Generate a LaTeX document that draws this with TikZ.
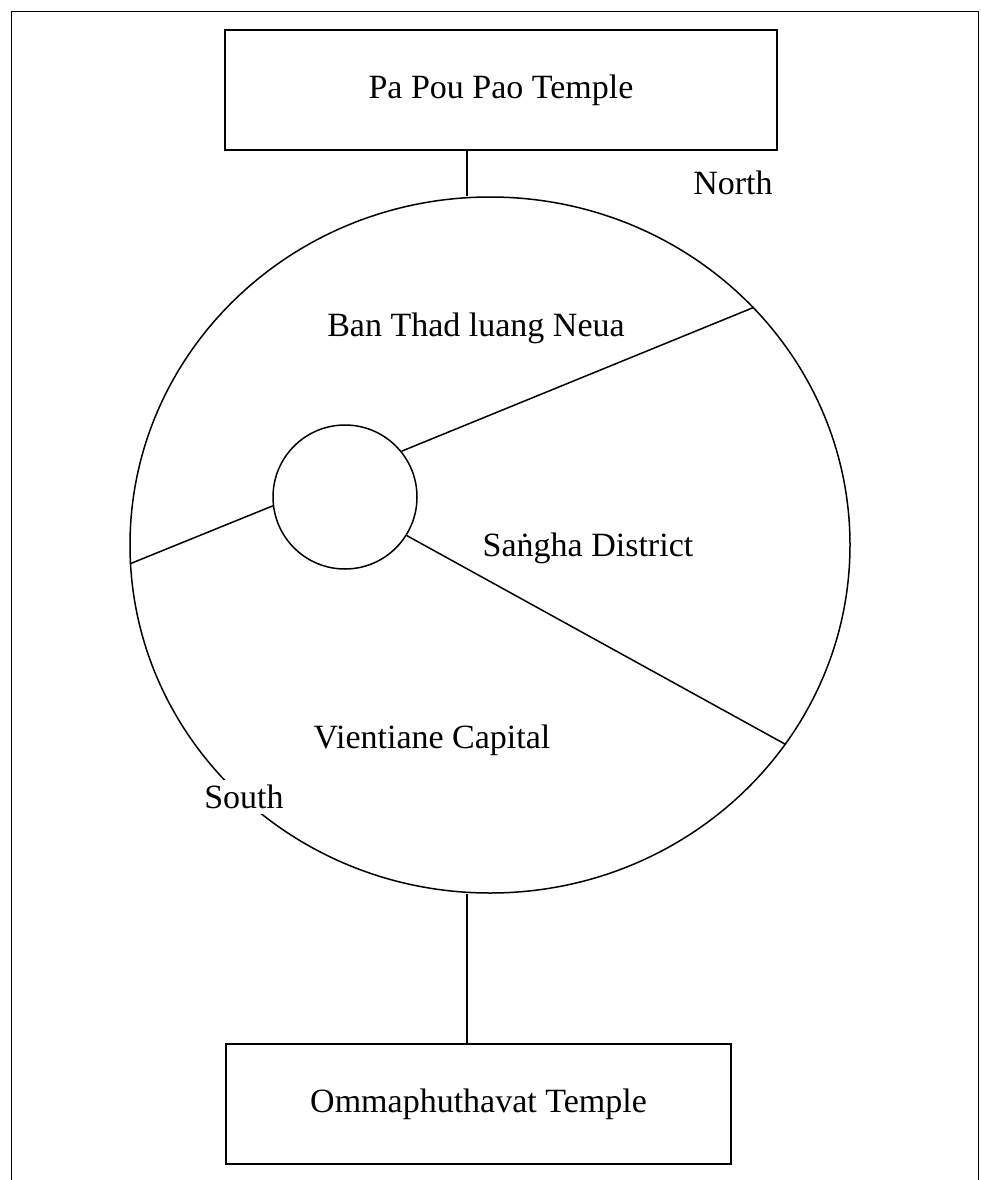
\documentclass[tikz,border=0pt]{standalone}
\usepackage{fontspec}
\setmainfont{Liberation Serif}
\usetikzlibrary{positioning,shapes.geometric}

\begin{document}
\begin{tikzpicture}
[x=1pt,y=-1pt,line width=1.5pt,
   every node/.style={font=\fontsize{34}{40}\selectfont},
   temple/.style={draw,rectangle,inner sep=0pt,minimum height=120pt},
   area/.style={draw,ellipse,inner sep=0pt}]
\useasboundingbox (0,0) rectangle (980,1180);
\clip (0,0) rectangle (980,1180);
\draw[line width=1pt] (11,12) rectangle (978,1220);

\node[temple,minimum width=552pt] (papou) at (501,90) {Pa Pou Pao Temple};
\node[temple,minimum width=505pt] (omma) at (478.5,1104) {Ommaphuthavat Temple};
\node[area,minimum width=720pt,minimum height=696pt] (district) at (490,545) {};
\node[draw,circle,minimum size=144pt,inner sep=0pt] (hub) at (345,497) {};

\coordinate (axis) at (467,0);
\draw (papou.south -| axis) -- (district.north -| axis);
\draw (district.south -| axis) -- (omma.north -| axis);

\draw (hub.39) -- (district.42.7);
\draw (hub.187) -- (district.183.3);
\draw (hub.-32) -- (district.-34);

\node (north) at (733,183) {North};
\node[fill=white,inner sep=5pt] (south) at (244,797) {South};
\node (neua) at (476,328) {Ban Thad luang Neua};
\node (sangha) at (588,548) {Saṅgha District};
\node (vientiane) at (432,740) {Vientiane Capital};
\end{tikzpicture}
\end{document}
